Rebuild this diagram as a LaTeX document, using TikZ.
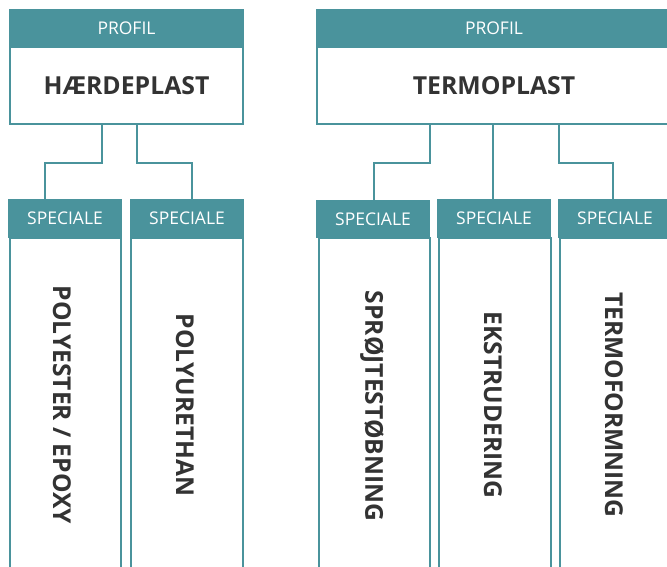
\documentclass[tikz,border=0pt]{standalone}
\usepackage{fontspec}
\setmainfont{Open Sans}
\definecolor{teal1}{HTML}{4A939C}
\definecolor{txt}{HTML}{333333}
\begin{document}
\begin{tikzpicture}[x=1pt,y=-1pt,
  hdr/.style={fill=teal1,draw=none,inner sep=0pt,text=white,font=\fontsize{17.5}{20}\selectfont},
  body/.style={draw=teal1,line width=2pt,fill=white,inner sep=0pt},
  title/.style={text=txt,font=\bfseries\fontsize{24.8}{28}\selectfont},
  vtitle/.style={text=txt,font=\bfseries\fontsize{24.6}{28}\selectfont,rotate=-90},
  conn/.style={draw=teal1,line width=2.5pt}]
\useasboundingbox (0,0) rectangle (667,566);
% profile boxes
\node[hdr,minimum width=235pt,minimum height=38pt] (ph1) at (126.5,28) {PROFIL};
\node[body,minimum width=233pt,minimum height=77pt] (hard) at (126.5,85.5) {};
\node[title] at (hard.center) {HÆRDEPLAST};
\node[hdr,minimum width=356pt,minimum height=38pt] (ph2) at (494,28) {PROFIL};
\node[body,minimum width=354pt,minimum height=77pt] (termo) at (494,85.5) {};
\node[title] at (termo.center) {TERMOPLAST};
% speciale bodies
\node[body,minimum width=111pt,minimum height=340pt] (b1) at (65.5,408) {};
\node[body,minimum width=112pt,minimum height=340pt] (b2) at (187,408) {};
\node[body,minimum width=111pt,minimum height=340pt] (b3) at (374.5,408) {};
\node[body,minimum width=112pt,minimum height=340pt] (b4) at (495,408) {};
\node[body,minimum width=112pt,minimum height=340pt] (b5) at (616,408) {};
% speciale headers
\node[hdr,minimum width=114pt,minimum height=39pt] (s1) at (65,218.5) {SPECIALE};
\node[hdr,minimum width=114pt,minimum height=39pt] (s2) at (187,218.5) {SPECIALE};
\node[hdr,minimum width=114pt,minimum height=38pt] (s3) at (373,219) {SPECIALE};
\node[hdr,minimum width=114pt,minimum height=39pt] (s4) at (494,218.5) {SPECIALE};
\node[hdr,minimum width=114pt,minimum height=39pt] (s5) at (615,218.5) {SPECIALE};
% vertical texts
\node[vtitle] (t1) at (62,405) {POLYESTER / EPOXY};
\node[vtitle] (t2) at (185,405) {POLYURETHAN};
\node[vtitle] (t3) at (372,406) {SPRØJTESTØBNING};
\node[vtitle] (t4) at (493,405) {EKSTRUDERING};
\node[vtitle] (t5) at (614,405) {TERMOFORMNING};
% connectors
\draw[conn] (102,0 |- hard.south) -- (102,163) -- (45,163) -- (45,0 |- s1.north);
\draw[conn] (137,0 |- hard.south) -- (137,163) -- (192,163) -- (192,0 |- s2.north);
\draw[conn] (430,0 |- termo.south) -- (430,163) -- (374,163) -- (374,0 |- s3.north);
\draw[conn] (493,0 |- termo.south) -- (493,0 |- s4.north);
\draw[conn] (559,0 |- termo.south) -- (559,163) -- (613,163) -- (613,0 |- s5.north);
\end{tikzpicture}
\end{document}
